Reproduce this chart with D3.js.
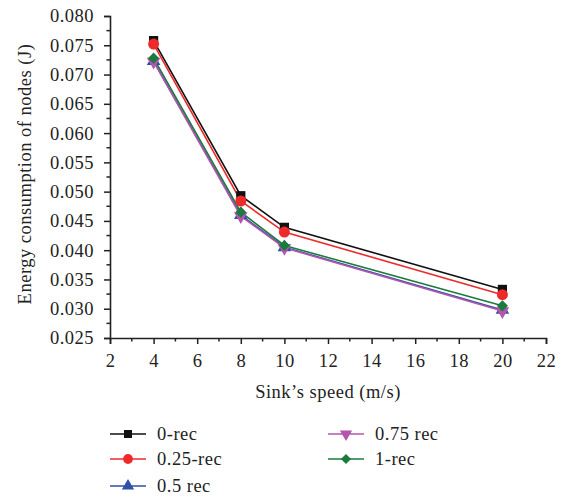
<!DOCTYPE html>
<html><head><meta charset="utf-8">
<script src="https://cdn.jsdelivr.net/npm/d3@7"></script>
<style>body{margin:0;background:#fff}svg{display:block}text{font-family:"Liberation Serif","DejaVu Serif",serif;fill:#222;letter-spacing:0.5px}</style>
</head><body><svg id="c" width="566" height="498"></svg>
<script>
const speeds = [4, 8, 10, 20];
const rec0   = [0.0758, 0.0493, 0.0439, 0.0333];
const rec25  = [0.0752, 0.0484, 0.0431, 0.0324];
const rec50  = [0.0723, 0.0460, 0.0405, 0.0298];
const rec75  = [0.0722, 0.0458, 0.0404, 0.0296];
const rec100 = [0.0728, 0.0465, 0.0408, 0.0305];
const seriesNames = ["0-rec", "0.25-rec", "0.5 rec", "0.75 rec", "1-rec"];
const xTicks = [2,4,6,8,10,12,14,16,18,20,22];
const yTicks = [0.025,0.030,0.035,0.040,0.045,0.050,0.055,0.060,0.065,0.070,0.075,0.080];

const FONT = '"Liberation Serif","DejaVu Serif",serif';
const FS = "18.5px";
const series = [
  {name: seriesNames[0], vals: rec0,   color: "#111111", sym: d3.symbolSquare, rot: 0},
  {name: seriesNames[1], vals: rec25,  color: "#ee2a2a", sym: d3.symbolCircle, rot: 0},
  {name: seriesNames[2], vals: rec50,  color: "#2f4fa8", sym: d3.symbolTriangle, rot: 0},
  {name: seriesNames[3], vals: rec75,  color: "#b455ae", sym: d3.symbolTriangle, rot: 180},
  {name: seriesNames[4], vals: rec100, color: "#1b7a3e", sym: d3.symbolDiamond2 || d3.symbolDiamond, rot: 0}
];

const svg = d3.select("#c");
const x = d3.scaleLinear().domain([2, 22]).range([110, 546]);
const y = d3.scaleLinear().domain([0.025, 0.080]).range([338, 16]);

// axes
const xAxis = d3.axisBottom(x).tickValues(xTicks).tickFormat(d3.format("d")).tickSize(6).tickPadding(10);
const gx = svg.append("g").attr("transform", "translate(0,338)").call(xAxis);
const xMinor = d3.range(3, 22, 2);
gx.selectAll(".minor").data(xMinor).enter().append("line")
  .attr("x1", d => x(d)).attr("x2", d => x(d)).attr("y1", 0).attr("y2", 3.5).attr("stroke", "#222").attr("stroke-width", 1.5);

const yAxis = d3.axisLeft(y).tickValues(yTicks).tickFormat(d3.format(".3f")).tickSize(6).tickPadding(10);
const gy = svg.append("g").attr("transform", "translate(110,0)").call(yAxis);
const yMinor = yTicks.slice(0, -1).map(v => v + 0.0025);
gy.selectAll(".minor").data(yMinor).enter().append("line")
  .attr("x1", 0).attr("x2", -3.5).attr("y1", d => y(d)).attr("y2", d => y(d)).attr("stroke", "#222").attr("stroke-width", 1.5);

[gx, gy].forEach(g => {
  g.select(".domain").attr("stroke", "#222").attr("stroke-width", 1.6);
  g.selectAll(".tick line").attr("stroke", "#222").attr("stroke-width", 1.5);
  g.selectAll("text").style("font-size", FS).attr("fill", "#222").style("font-family", FONT);
});

// titles
svg.append("text").attr("x", 328).attr("y", 398).attr("text-anchor", "middle").style("font-size", FS).text("Sink\u2019s speed (m/s)");
svg.append("text").attr("transform", "translate(31,174) rotate(-90)").attr("text-anchor", "middle").style("font-size", FS).text("Energy consumption of nodes (J)");

// lines
const line = d3.line().x((d, i) => x(speeds[i])).y(d => y(d));
series.forEach(s => {
  svg.append("path").datum(s.vals).attr("d", line).attr("fill", "none").attr("stroke", s.color).attr("stroke-width", 1.6);
});
series.forEach(s => {
  svg.selectAll(null).data(s.vals).enter().append("path")
    .attr("d", d3.symbol().type(s.sym).size(s.sym === d3.symbolCircle ? 95 : (s.sym === d3.symbolSquare ? 85 : 80)))
    .attr("transform", (d, i) => `translate(${x(speeds[i])},${y(d)}) rotate(${s.rot})`)
    .attr("fill", s.color);
});

// legend
const legPos = [[110, 434], [110, 459], [110, 486], [328, 434], [328, 459]];
series.forEach((s, i) => {
  const [lx, ly] = legPos[i];
  const g = svg.append("g").attr("transform", `translate(${lx},${ly})`);
  g.append("line").attr("x1", 0).attr("x2", 36).attr("y1", 0).attr("y2", 0).attr("stroke", s.color).attr("stroke-width", 1.6);
  g.append("path").attr("d", d3.symbol().type(s.sym).size(s.sym === d3.symbolCircle ? 75 : 65)).attr("transform", `translate(18,0) rotate(${s.rot})`).attr("fill", s.color);
  g.append("text").attr("x", 47).attr("y", 6).style("font-size", FS).text(s.name);
});
</script></body></html>
